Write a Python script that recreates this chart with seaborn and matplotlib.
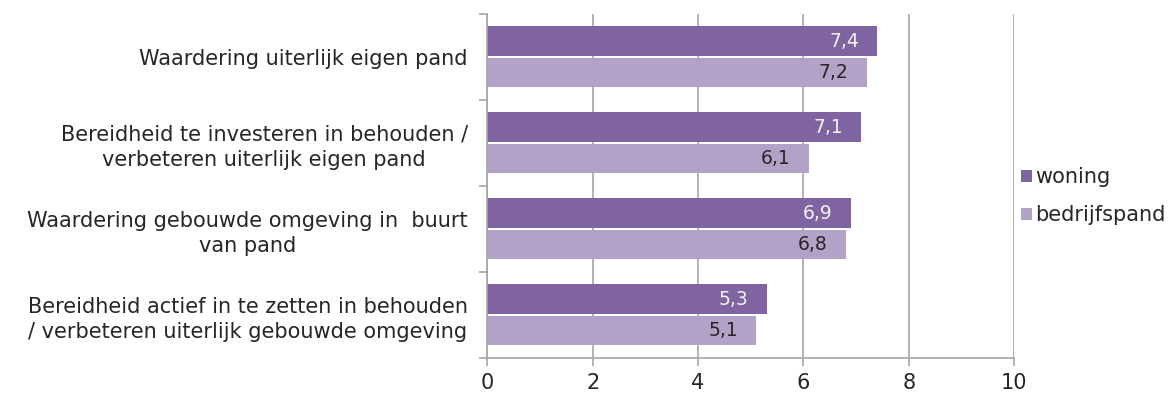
import matplotlib
matplotlib.use("Agg")
import matplotlib.pyplot as plt
from matplotlib.ticker import FixedLocator
import seaborn as sns
import pandas as pd

# data
categories = [
    "Waardering uiterlijk eigen pand",
    "Bereidheid te investeren in behouden /\nverbeteren uiterlijk eigen pand",
    "Waardering gebouwde omgeving in  buurt\nvan pand",
    "Bereidheid actief in te zetten in behouden\n/ verbeteren uiterlijk gebouwde omgeving",
]
series = ["woning", "bedrijfspand"]
woning = [7.4, 7.1, 6.9, 5.3]
bedrijfspand = [7.2, 6.1, 6.8, 5.1]
x_ticks = [0, 2, 4, 6, 8, 10]

colors = {"woning": "#8064A2", "bedrijfspand": "#B3A2C7"}
label_colors = {"woning": "#F2F2F2", "bedrijfspand": "#262626"}

df = pd.DataFrame({
    "categorie": categories * 2,
    "reeks": [series[0]] * 4 + [series[1]] * 4,
    "waarde": woning + bedrijfspand,
})

sns.set_style("white")
plt.rcParams["font.family"] = ["DejaVu Sans"]
grid_col = "#A6A6A6"
text_col = "#262626"

fig = plt.figure(figsize=(11.74, 3.99), dpi=100)
ax = fig.add_axes([0.415, 0.103, 0.449, 0.862])

sns.barplot(data=df, y="categorie", x="waarde", hue="reeks", orient="h",
            palette=colors, width=0.74, gap=0.08, saturation=1, ax=ax,
            edgecolor="none", legend=True)

# value labels inside bar ends, Dutch decimal comma
for cont, name in zip(ax.containers, series):
    for bar in cont:
        w = bar.get_width()
        ax.annotate(f"{w:.1f}".replace(".", ","),
                    (w, bar.get_y() + bar.get_height() / 2),
                    xytext=(-13, 0), textcoords="offset points",
                    ha="right", va="center", fontsize=13.5,
                    color=label_colors[name])

ax.set_xlim(0, 10)
ax.set_ylim(3.5, -0.5)
ax.set_xticks(x_ticks)
ax.set_xlabel("")
ax.set_ylabel("")
ax.grid(axis="x", color=grid_col, linewidth=1.2)
ax.set_axisbelow(True)

ax.yaxis.set_minor_locator(FixedLocator([-0.5, 0.5, 1.5, 2.5, 3.5]))
ax.tick_params(axis="y", which="major", length=0, pad=14, labelsize=15,
               labelcolor=text_col)
ax.tick_params(axis="y", which="minor", length=6, width=1.2, color=grid_col,
               left=True)
ax.tick_params(axis="x", length=6, width=1.2, color=grid_col, bottom=True,
               labelsize=15, labelcolor=text_col, pad=5)
for lab in ax.get_yticklabels():
    lab.set_multialignment("center")
    lab.set_linespacing(1.3)

for side in ["top", "right"]:
    ax.spines[side].set_visible(False)
for side in ["left", "bottom"]:
    ax.spines[side].set_color(grid_col)
    ax.spines[side].set_linewidth(1.2)

leg = ax.legend(loc="center left", bbox_to_anchor=(0.978, 0.47), frameon=False,
                fontsize=15, handlelength=0.5, handleheight=0.5,
                handletextpad=0.15, labelspacing=0.85)
for t in leg.get_texts():
    t.set_color(text_col)

fig.savefig("out.png", dpi=100)
